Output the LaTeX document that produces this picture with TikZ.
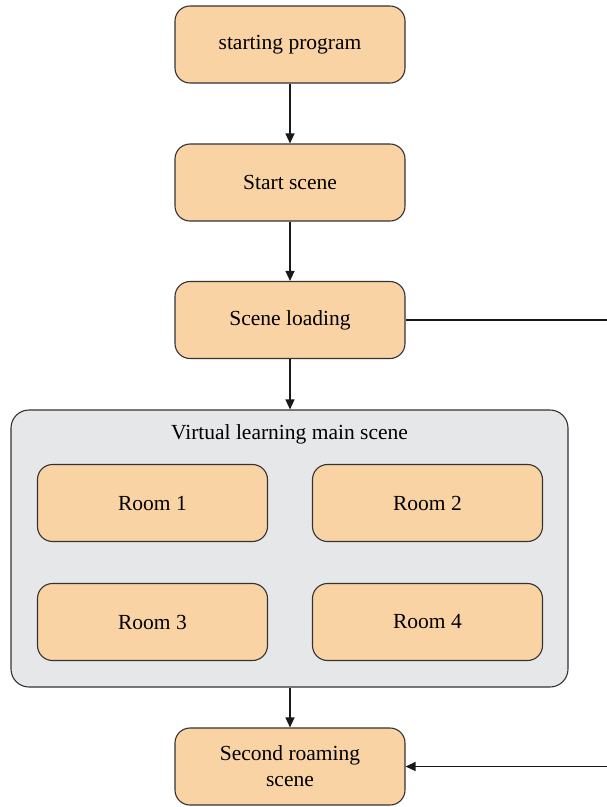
\documentclass[tikz,border=0pt]{standalone}
\usepackage{fontspec}
\setmainfont{Liberation Serif}
\usetikzlibrary{arrows.meta}
\definecolor{boxfill}{HTML}{FAD3A5}
\definecolor{panelfill}{HTML}{E6E7E8}
\definecolor{edgecol}{HTML}{333333}
\begin{document}
\begin{tikzpicture}[x=1pt,y=-1pt,
  procbox/.style={draw=edgecol, fill=boxfill, rounded corners=15pt,
    minimum width=230pt, minimum height=77pt, align=center,
    line width=1.1pt, inner sep=2pt,
    font=\fontsize{21.5}{26}\selectfont},
  panel/.style={draw=edgecol, fill=panelfill, rounded corners=18pt,
    minimum width=557pt, minimum height=277pt, line width=1.1pt},
  arr/.style={draw=black!90, line width=1.2pt,
    -{Triangle[length=10pt,width=9pt]}},
  link/.style={draw=black!90, line width=1.1pt}]
\useasboundingbox (0,0) rectangle (607,807);

% main flow
\node[procbox] (sp) at (290,44.5) {starting program};
\node[procbox] (ss) at (290,182.5) {Start scene};
\node[procbox] (sl) at (290,320) {Scene loading};

% main scene panel with its four rooms
\node[panel] (main) at (289.5,548.5) {};
\node[font=\fontsize{21.5}{26}\selectfont] (title) at (289.5,434) {Virtual learning main scene};
\node[procbox] (r1) at (152.5,503) {Room 1};
\node[procbox] (r2) at (427.5,503) {Room 2};
\node[procbox] (r3) at (152.5,622) {Room 3};
\node[procbox] (r4) at (427.5,622) {Room 4};

\node[procbox] (sr) at (290,766.5) {Second roaming\\scene};

% connectors
\draw[arr] (sp) -- (ss);
\draw[arr] (ss) -- (sl);
\draw[arr] (sl) -- (sl |- main.north);
\draw[arr] (sl |- main.south) -- (sr);

\coordinate (outA) at (607,320);
\coordinate (outB) at (607,766.5);
\draw[link] (sl.east) -- (outA);
\draw[arr] (outB) -- (sr.east);
\end{tikzpicture}
\end{document}
